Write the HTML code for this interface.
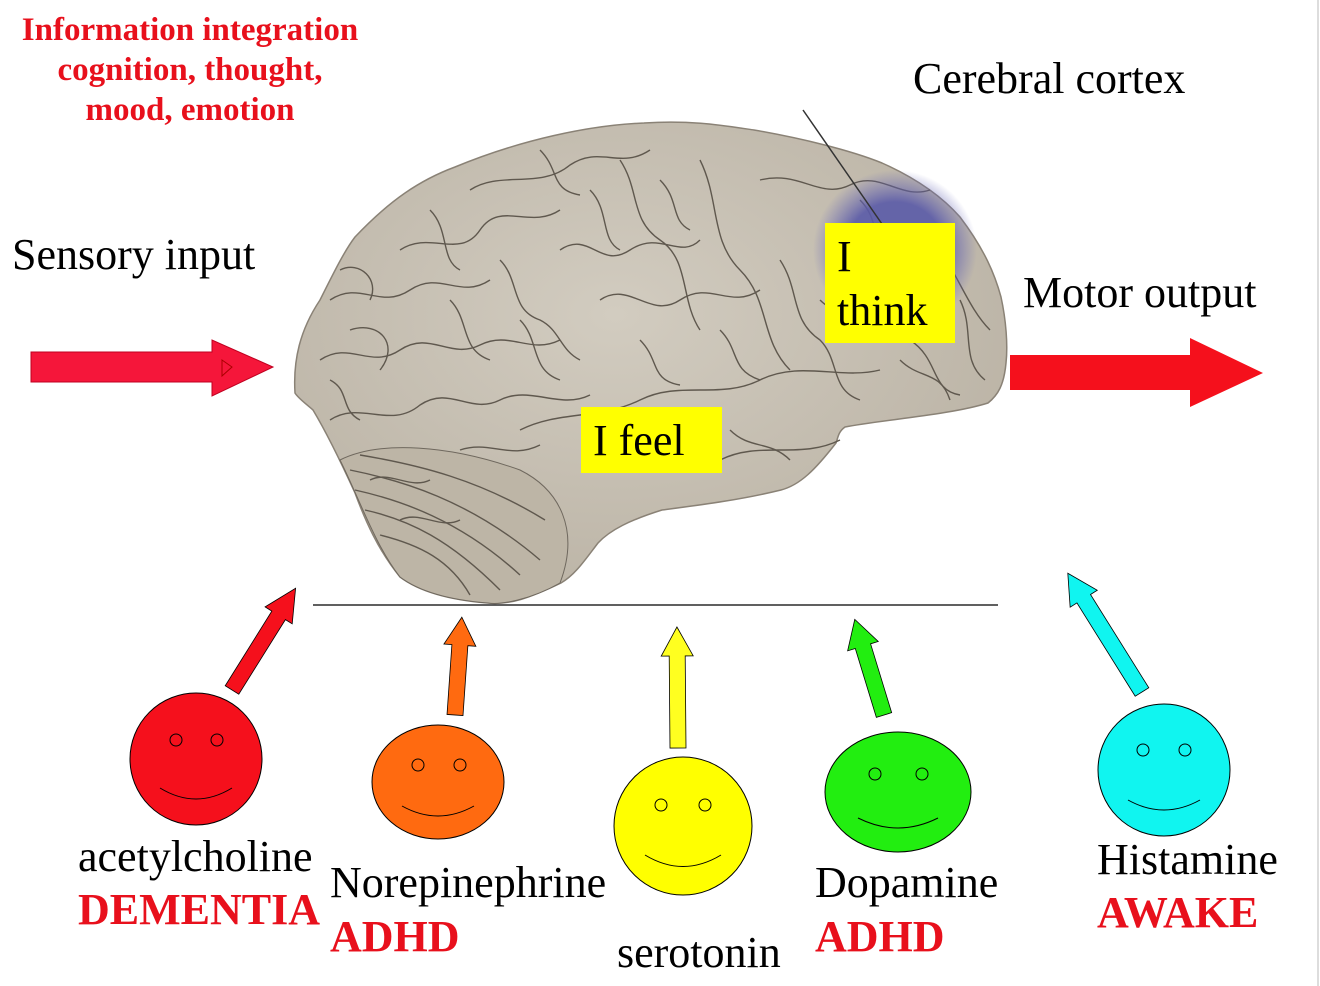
<!DOCTYPE html>
<html><head><meta charset="utf-8"><style>
body{margin:0;background:#fff;width:1320px;height:986px;overflow:hidden;position:relative;font-family:"Liberation Serif",serif}
.t{position:absolute;white-space:nowrap;line-height:1;font-size:44px}
</style></head><body>
<svg width="1320" height="986" style="position:absolute;left:0;top:0">
<defs>
<radialGradient id="bl"><stop offset="0.6" stop-color="#5a5aa8" stop-opacity="0.9"/><stop offset="1" stop-color="#6a6ab8" stop-opacity="0"/></radialGradient>
<radialGradient id="br" cx="0.45" cy="0.4" r="0.7"><stop offset="0" stop-color="#d2ccc0"/><stop offset="1" stop-color="#b8b0a2"/></radialGradient>
</defs>
<line x1="1318" y1="0" x2="1318" y2="986" stroke="#ddd" stroke-width="2"/>
<path d="M295,393 C293,360 300,330 320,300 C335,270 345,250 355,237 C390,200 420,180 455,167 C520,140 590,125 644,123 C690,120 720,125 754,130 C800,138 850,150 882,163 C920,180 945,200 960,217 C985,250 995,275 1001,297 C1006,320 1008,345 1006,363 C1004,385 998,395 988,403 C950,415 880,420 845,427 C838,432 838,438 836,443 C815,470 800,485 781,490 C740,500 700,505 662,510 C630,520 610,530 598,543 C585,560 575,575 561,583 C530,598 510,605 488,603 C450,600 420,592 400,577 C378,550 365,520 355,493 C340,460 325,430 313,410 C305,403 298,398 295,393 Z" fill="url(#br)" stroke="#8a8276" stroke-width="1.5"/>
<path d="M340,460 C380,440 450,445 520,470 C560,490 580,530 560,583 C530,600 500,605 488,603 C450,600 420,592 400,577 C375,545 360,500 340,460Z" fill="#bdb5a6" stroke="#6f685e" stroke-width="1"/>
<g fill="none" stroke="#5f584e" stroke-width="1.4">
<path d="M350,470 C400,480 470,500 540,560"/><path d="M355,490 C400,500 460,520 520,575"/><path d="M365,510 C410,520 450,540 500,590"/><path d="M380,535 C420,545 450,560 470,595"/><path d="M360,455 C420,465 480,480 545,520"/>
<path d="M370,480 C390,470 410,490 430,480"/><path d="M400,520 C420,510 440,530 460,520"/>
<path d="M330,300 C360,280 380,310 410,290 C440,270 460,300 490,280"/>
<path d="M320,360 C350,340 370,370 400,350 C430,330 450,360 480,345 C510,330 530,355 560,340"/>
<path d="M330,420 C360,400 390,430 420,405 C450,385 470,415 500,400 C530,385 560,410 590,395"/>
<path d="M400,250 C430,230 460,260 480,230 C500,200 530,230 560,210"/>
<path d="M470,190 C500,170 540,190 570,165 C600,145 620,170 650,150"/>
<path d="M560,250 C590,230 600,270 630,250 C660,230 680,260 700,240"/>
<path d="M600,300 C630,280 650,320 680,300 C710,280 730,310 760,290"/>
<path d="M620,160 C640,190 630,220 660,240 C690,260 680,300 700,330"/>
<path d="M700,160 C720,200 710,240 740,270 C770,300 760,340 790,370"/>
<path d="M760,180 C800,170 820,200 850,185 C880,170 900,200 930,190"/>
<path d="M780,260 C800,290 790,320 820,340 C840,360 830,390 860,400"/>
<path d="M520,430 C560,410 600,420 640,400 C680,380 720,400 760,380 C800,360 840,380 880,370"/>
<path d="M600,470 C640,460 680,480 720,460 C760,440 800,460 840,440"/>
<path d="M880,260 C900,290 880,320 910,340 C940,360 930,390 960,395"/>
<path d="M940,250 C960,280 970,310 990,330"/>
<path d="M350,330 C380,320 400,345 380,370"/><path d="M450,300 C470,320 460,350 490,360"/>
<path d="M520,320 C540,340 530,370 560,380"/>
<path d="M340,270 C360,260 380,280 370,300"/><path d="M430,210 C450,230 440,260 460,270"/>
<path d="M500,260 C520,280 510,310 540,320 C560,330 560,350 580,360"/>
<path d="M590,190 C610,210 600,240 620,250"/><path d="M660,180 C680,200 670,220 690,230"/>
<path d="M720,330 C740,350 730,370 760,380"/><path d="M640,340 C660,360 650,380 680,385"/>
<path d="M820,300 C840,320 860,310 870,340"/><path d="M960,300 C975,330 960,360 985,380"/>
<path d="M900,360 C920,380 940,370 950,400"/><path d="M460,450 C490,440 510,460 540,445"/>
<path d="M330,380 C350,390 340,410 360,420"/><path d="M730,430 C750,450 770,440 790,460"/>
<path d="M860,200 C880,220 870,240 890,250"/><path d="M540,150 C560,170 550,190 580,195"/>
</g>
<ellipse cx="895" cy="250" rx="82" ry="80" fill="url(#bl)"/>
<line x1="803" y1="110" x2="882" y2="224" stroke="#333" stroke-width="1.5"/>
<rect x="825" y="223" width="130" height="120" fill="#ffff00"/>
<rect x="581" y="407" width="141" height="66" fill="#ffff00"/>
<line x1="313" y1="605" x2="998" y2="605" stroke="#000" stroke-width="1.2"/>
<polygon points="31,352 212,352 212,340 273,367 212,396 212,382 31,382" fill="#f5163a" stroke="#c00020"/>
<polygon points="222,360 232,367 222,376" fill="none" stroke="#a00"/>
<polygon points="1010,355 1190,355 1190,338 1263,373 1190,407 1190,390 1010,390" fill="#f5101c"/>
<g stroke="#000" stroke-width="0.8">
<polygon points="0,-8 88,-8 88,-16 120,0 88,16 88,8 0,8" fill="#f5101c" transform="translate(232,690) rotate(-58)"/>
<polygon points="0,-8 70,-8 70,-16 98,0 70,16 70,8 0,8" fill="#ff6a10" transform="translate(455,715) rotate(-86)"/>
<polygon points="0,-8 92,-8 92,-16 121,0 92,16 92,8 0,8" fill="#ffff20" transform="translate(678,748) rotate(-90.5)"/>
<polygon points="0,-8 72,-8 72,-16 100,0 72,16 72,8 0,8" fill="#22ee10" transform="translate(884,715) rotate(-107)"/>
<polygon points="0,-8 110,-8 110,-16 140,0 110,16 110,8 0,8" fill="#10f5f0" transform="translate(1142,692) rotate(-122)"/>
</g>
<g stroke="#000" stroke-width="1">
<ellipse cx="196" cy="759" rx="66" ry="66" fill="#f5101c"/>
<circle cx="176" cy="740" r="6" fill="none"/><circle cx="217" cy="740" r="6" fill="none"/>
<path d="M160,788 Q196,810 232,788" fill="none"/>
<ellipse cx="438" cy="782" rx="66" ry="57" fill="#ff6a10"/>
<circle cx="418" cy="765" r="6" fill="none"/><circle cx="460" cy="765" r="6" fill="none"/>
<path d="M402,806 Q438,826 474,806" fill="none"/>
<ellipse cx="683" cy="826" rx="69" ry="69" fill="#ffff00"/>
<circle cx="661" cy="805" r="6" fill="none"/><circle cx="705" cy="805" r="6" fill="none"/>
<path d="M645,855 Q683,878 721,855" fill="none"/>
<ellipse cx="898" cy="792" rx="73" ry="60" fill="#22ee10"/>
<circle cx="875" cy="774" r="6" fill="none"/><circle cx="922" cy="774" r="6" fill="none"/>
<path d="M858,818 Q898,838 938,818" fill="none"/>
<ellipse cx="1164" cy="770" rx="66" ry="66" fill="#10f5f0"/>
<circle cx="1143" cy="750" r="6" fill="none"/><circle cx="1185" cy="750" r="6" fill="none"/>
<path d="M1128,800 Q1164,820 1200,800" fill="none"/>
</g>
</svg>
<div class="t" style="left:0;width:380px;text-align:center;top:10px;font-size:33px;font-weight:bold;color:#e8101c;line-height:40px">Information integration<br>cognition, thought,<br>mood, emotion</div>
<div class="t" style="left:913px;top:57px">Cerebral cortex</div>
<div class="t" style="left:12px;top:233px">Sensory input</div>
<div class="t" style="left:1023px;top:271px">Motor output</div>
<div class="t" style="left:837px;top:230px;line-height:54px">I<br>think</div>
<div class="t" style="left:593px;top:419px">I feel</div>
<div class="t" style="left:78px;top:835px">acetylcholine</div>
<div class="t" style="left:78px;top:888px;font-weight:bold;color:#e8101c">DEMENTIA</div>
<div class="t" style="left:330px;top:861px">Norepinephrine</div>
<div class="t" style="left:330px;top:915px;font-weight:bold;color:#e8101c">ADHD</div>
<div class="t" style="left:617px;top:931px">serotonin</div>
<div class="t" style="left:815px;top:861px">Dopamine</div>
<div class="t" style="left:815px;top:915px;font-weight:bold;color:#e8101c">ADHD</div>
<div class="t" style="left:1097px;top:838px">Histamine</div>
<div class="t" style="left:1097px;top:891px;font-weight:bold;color:#e8101c">AWAKE</div>
</body></html>
